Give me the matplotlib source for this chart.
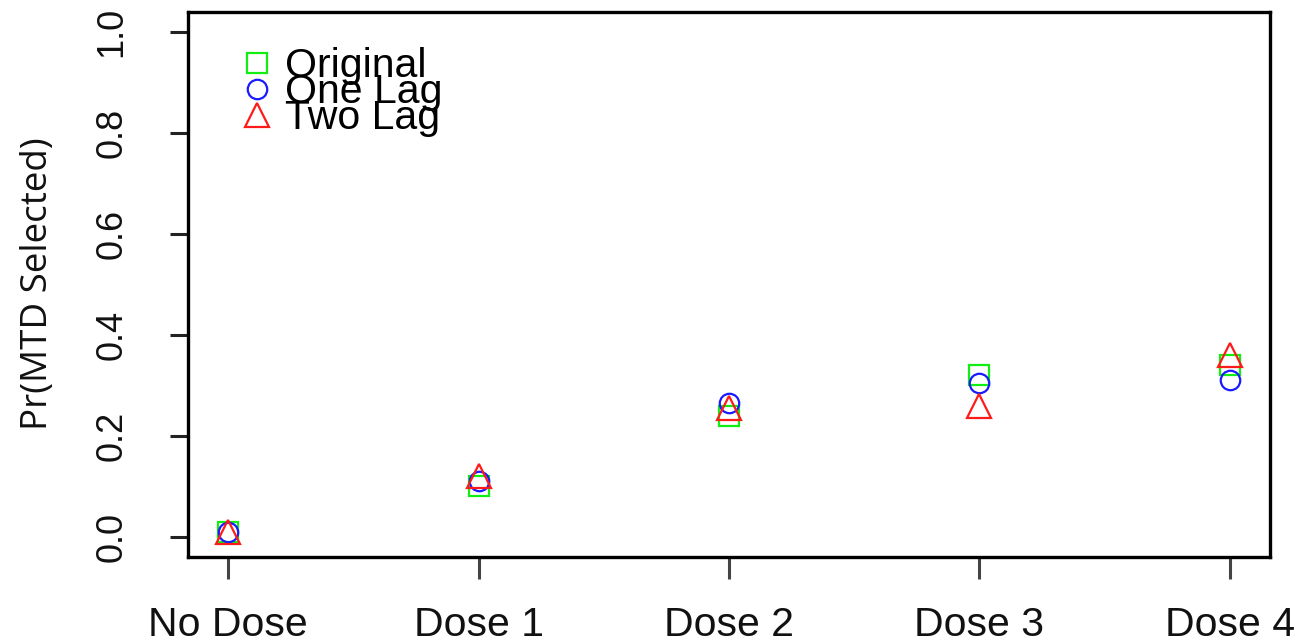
import matplotlib.pyplot as plt
from matplotlib.lines import Line2D

doses = ["No Dose", "Dose 1", "Dose 2", "Dose 3", "Dose 4"]
original = [0.01, 0.10, 0.24, 0.32, 0.34]
one_lag = [0.01, 0.11, 0.265, 0.305, 0.31]
two_lag = [0.01, 0.12, 0.255, 0.26, 0.36]

GREEN = "#11ee11"
BLUE = "#1a1aff"
RED = "#ff1a1a"

fig = plt.figure(figsize=(12.99, 6.44), dpi=100)
ax = fig.add_axes([188 / 1299, 87 / 644, 1082 / 1299, 545 / 644])

x = list(range(1, len(doses) + 1))
style = dict(linestyle="none", markerfacecolor="none", markersize=14, markeredgewidth=1.6)
tri_style = dict(linestyle="none", markerfacecolor="none", markersize=17, markeredgewidth=1.6)
ax.plot(x, original, marker="s", markeredgecolor=GREEN, **style)
ax.plot(x, one_lag, marker="o", markeredgecolor=BLUE, **style)
ax.plot(x, two_lag, marker="^", markeredgecolor=RED, **tri_style)

# R-style axis ranges (4% padding)
ax.set_xlim(0.84, 5.16)
ax.set_ylim(-0.04, 1.04)

ax.set_xticks(x)
ax.set_xticklabels(doses, fontsize=29.5, family="Liberation Sans", color="#111111")
ax.set_yticks([0.0, 0.2, 0.4, 0.6, 0.8, 1.0])
ax.set_yticklabels(["0.0", "0.2", "0.4", "0.6", "0.8", "1.0"], fontsize=26,
                   family="Liberation Sans", rotation=90, va="center", color="#111111")
ax.tick_params(axis="x", length=16, width=2.2, color="#444444", pad=19)
ax.tick_params(axis="y", length=13, width=2.2, color="#222222", pad=29)

for spine in ax.spines.values():
    spine.set_linewidth(2.4)
    spine.set_color("black")

fig.text(38 / 1299, 1 - 284 / 644, "Pr(MTD Selected)", rotation=90, ha="center",
         va="center", fontsize=26.5, family="Open Sans", color="#111111")

handles = [
    Line2D([], [], marker="s", markeredgecolor=GREEN, **style),
    Line2D([], [], marker="o", markeredgecolor=BLUE, **style),
    Line2D([], [], marker="^", markeredgecolor=RED, **tri_style),
]
ax.legend(handles, ["Original", "One Lag", "Two Lag"], loc="upper left",
          bbox_to_anchor=(0.046, 0.935), frameon=False, handlelength=0.95,
          handletextpad=0.2, labelspacing=-0.3, borderaxespad=0, borderpad=0,
          prop={"family": "Liberation Sans", "size": 29.5})

fig.savefig("out.png", dpi=100)
